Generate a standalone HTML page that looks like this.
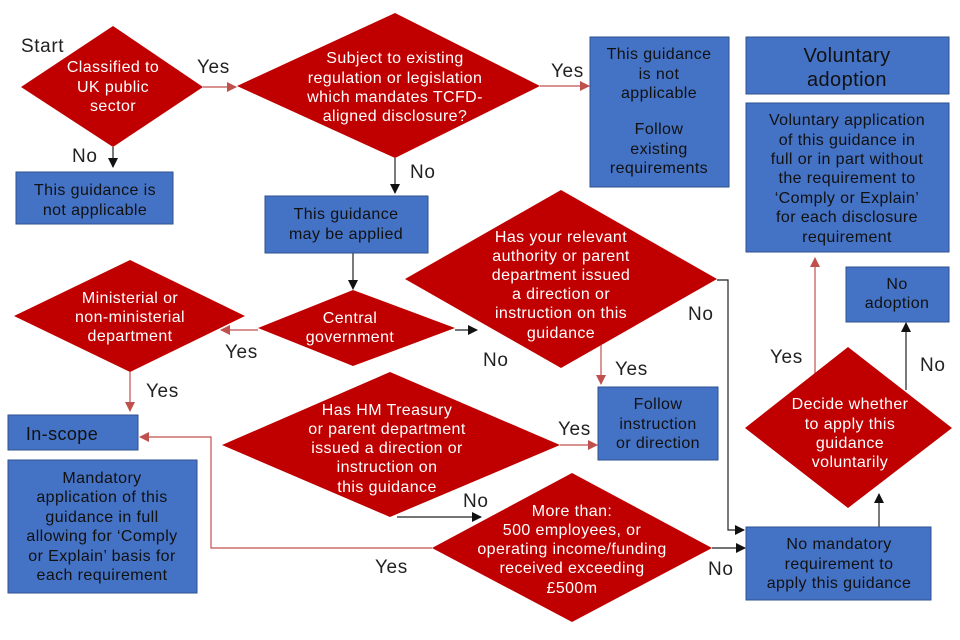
<!DOCTYPE html>
<html><head><meta charset="utf-8"><style>
html,body{margin:0;padding:0;background:#fff;}
svg{display:block;font-family:"Liberation Sans",sans-serif;}
.d{fill:#C00000;}
.b{fill:#4472C4;stroke:#2F528F;stroke-width:1;}
.wt{fill:#fff;font-size:16px;letter-spacing:0.4px;text-anchor:middle;}
.bt{fill:#111;font-size:16px;letter-spacing:0.4px;text-anchor:middle;}
.lb{fill:#222;font-size:19px;letter-spacing:0.6px;}
.k{stroke:#222;stroke-width:1.2;fill:none;}
.r{stroke:#C0504D;stroke-width:1.2;fill:none;}
</style></head><body>
<svg width="960" height="640" viewBox="0 0 960 640">
<defs>
<marker id="ak" markerWidth="10" markerHeight="10" refX="9" refY="5" orient="auto" markerUnits="userSpaceOnUse"><path d="M0,0 L10,5 L0,10z" fill="#111"/></marker>
<marker id="ar" markerWidth="10" markerHeight="10" refX="9" refY="5" orient="auto" markerUnits="userSpaceOnUse"><path d="M0,0 L10,5 L0,10z" fill="#C0504D"/></marker>
</defs>
<line class="r" x1="203" y1="87" x2="236" y2="87" marker-end="url(#ar)"/>
<line class="k" x1="113" y1="147" x2="113" y2="167" marker-end="url(#ak)"/>
<line class="r" x1="540" y1="86" x2="589" y2="86" marker-end="url(#ar)"/>
<line class="k" x1="395" y1="158" x2="395" y2="193" marker-end="url(#ak)"/>
<line class="k" x1="353" y1="253" x2="353" y2="289" marker-end="url(#ak)"/>
<line class="r" x1="258" y1="330" x2="221" y2="330" marker-end="url(#ar)"/>
<line class="k" x1="455" y1="330" x2="477" y2="330" marker-end="url(#ak)"/>
<line class="r" x1="601" y1="345" x2="601" y2="384" marker-end="url(#ar)"/>
<polyline class="k" points="717,280 728,280 728,530 744,530" marker-end="url(#ak)"/>
<line class="r" x1="130" y1="372" x2="130" y2="411" marker-end="url(#ar)"/>
<line class="r" x1="560" y1="445" x2="597" y2="445" marker-end="url(#ar)"/>
<line class="k" x1="397" y1="517" x2="481" y2="517" marker-end="url(#ak)"/>
<line class="k" x1="712" y1="548" x2="745" y2="548" marker-end="url(#ak)"/>
<polyline class="r" points="432,548 211,548 211,437 140,437" marker-end="url(#ar)"/>
<line class="k" x1="879" y1="527" x2="879" y2="494" marker-end="url(#ak)"/>
<line class="r" x1="815" y1="400" x2="815" y2="258" marker-end="url(#ar)"/>
<line class="k" x1="906" y1="390" x2="906" y2="323" marker-end="url(#ak)"/>
<polygon class="d" points="113,26 203,87 113,147 21,87"/>
<polygon class="d" points="395,13 540,86 395,158 237,86"/>
<polygon class="d" points="353,290 455,328 353,366 258,328"/>
<polygon class="d" points="130,260 245,316 130,372 14,316"/>
<polygon class="d" points="561,190 717,279 561,368 405,279"/>
<polygon class="d" points="390,372 560,445 390,517 222,445"/>
<polygon class="d" points="572,473 712,548 572,622 432,548"/>
<polygon class="d" points="848,347 952,428 848,508 745,428"/>
<rect class="b" x="16" y="172" width="157" height="52"/>
<rect class="b" x="265" y="196" width="163" height="57"/>
<rect class="b" x="590" y="37" width="139" height="150"/>
<rect class="b" x="746" y="37" width="203" height="57"/>
<rect class="b" x="746" y="103" width="203" height="149"/>
<rect class="b" x="846" y="267" width="103" height="55"/>
<rect class="b" x="598" y="387" width="120" height="73"/>
<rect class="b" x="8" y="415" width="130" height="35"/>
<rect class="b" x="8" y="460" width="189" height="133"/>
<rect class="b" x="746" y="527" width="185" height="73"/>
<text class="wt"><tspan x="113" y="72">Classified to</tspan><tspan x="113" y="92">UK public</tspan><tspan x="113" y="111">sector</tspan></text>
<text class="wt"><tspan x="395" y="63">Subject to existing</tspan><tspan x="395" y="83">regulation or legislation</tspan><tspan x="395" y="102">which mandates TCFD-</tspan><tspan x="395" y="121">aligned disclosure?</tspan></text>
<text class="wt"><tspan x="350" y="323">Central</tspan><tspan x="350" y="342">government</tspan></text>
<text class="wt"><tspan x="130" y="303">Ministerial or</tspan><tspan x="130" y="322">non-ministerial</tspan><tspan x="130" y="341">department</tspan></text>
<text class="wt"><tspan x="561" y="242">Has your relevant</tspan><tspan x="561" y="261">authority or parent</tspan><tspan x="561" y="280">department issued</tspan><tspan x="561" y="299">a direction or</tspan><tspan x="561" y="318">instruction on this</tspan><tspan x="561" y="338">guidance</tspan></text>
<text class="wt"><tspan x="387" y="415">Has HM Treasury</tspan><tspan x="387" y="434">or parent department</tspan><tspan x="387" y="453">issued a direction or</tspan><tspan x="387" y="472">instruction on</tspan><tspan x="387" y="492">this guidance</tspan></text>
<text class="wt"><tspan x="572" y="516">More than:</tspan><tspan x="572" y="535">500 employees, or</tspan><tspan x="572" y="554">operating income/funding</tspan><tspan x="572" y="573">received exceeding</tspan><tspan x="572" y="593">£500m</tspan></text>
<text class="wt"><tspan x="850" y="409">Decide whether</tspan><tspan x="850" y="429">to apply this</tspan><tspan x="850" y="448">guidance</tspan><tspan x="850" y="467">voluntarily</tspan></text>
<text class="bt"><tspan x="95" y="195">This guidance is</tspan><tspan x="95" y="215">not applicable</tspan></text>
<text class="bt"><tspan x="346" y="219">This guidance</tspan><tspan x="346" y="239">may be applied</tspan></text>
<text class="bt"><tspan x="659" y="59">This guidance</tspan><tspan x="659" y="79">is not</tspan><tspan x="659" y="98">applicable</tspan><tspan x="659" y="134">Follow</tspan><tspan x="659" y="154">existing</tspan><tspan x="659" y="173">requirements</tspan></text>
<text class="bt" style="font-size:20px"><tspan x="847" y="62">Voluntary</tspan><tspan x="847" y="86">adoption</tspan></text>
<text class="bt"><tspan x="847" y="125">Voluntary application</tspan><tspan x="847" y="145">of this guidance in</tspan><tspan x="847" y="164">full or in part without</tspan><tspan x="847" y="183">the requirement to</tspan><tspan x="847" y="203">‘Comply or Explain’</tspan><tspan x="847" y="222">for each disclosure</tspan><tspan x="847" y="242">requirement</tspan></text>
<text class="bt"><tspan x="897" y="289">No</tspan><tspan x="897" y="308">adoption</tspan></text>
<text class="bt"><tspan x="658" y="409">Follow</tspan><tspan x="658" y="429">instruction</tspan><tspan x="658" y="448">or direction</tspan></text>
<text class="bt" style="font-size:18px"><tspan x="62" y="440">In-scope</tspan></text>
<text class="bt"><tspan x="102" y="483">Mandatory</tspan><tspan x="102" y="502">application of this</tspan><tspan x="102" y="522">guidance in full</tspan><tspan x="102" y="541">allowing for ‘Comply</tspan><tspan x="102" y="561">or Explain’ basis for</tspan><tspan x="102" y="580">each requirement</tspan></text>
<text class="bt"><tspan x="839" y="549">No mandatory</tspan><tspan x="839" y="569">requirement to</tspan><tspan x="839" y="588">apply this guidance</tspan></text>
<text class="lb" x="21" y="52">Start</text>
<text class="lb" x="197" y="73">Yes</text>
<text class="lb" x="72" y="162">No</text>
<text class="lb" x="551" y="77">Yes</text>
<text class="lb" x="410" y="178">No</text>
<text class="lb" x="225" y="358">Yes</text>
<text class="lb" x="483" y="366">No</text>
<text class="lb" x="615" y="375">Yes</text>
<text class="lb" x="688" y="320">No</text>
<text class="lb" x="146" y="397">Yes</text>
<text class="lb" x="558" y="435">Yes</text>
<text class="lb" x="463" y="507">No</text>
<text class="lb" x="708" y="575">No</text>
<text class="lb" x="375" y="573">Yes</text>
<text class="lb" x="770" y="363">Yes</text>
<text class="lb" x="920" y="371">No</text>
</svg>
</body></html>
